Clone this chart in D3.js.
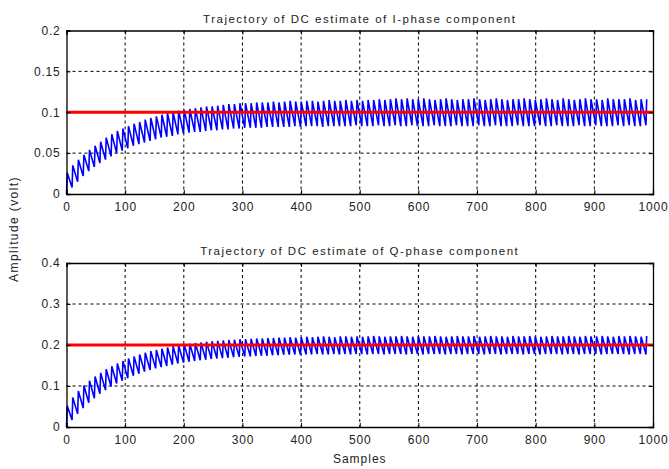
<!DOCTYPE html>
<html><head><meta charset="utf-8">
<script src="https://cdn.jsdelivr.net/npm/d3@7"></script>
<style>
html,body{margin:0;padding:0;background:#fff;}
svg{display:block;font-family:"Liberation Sans",Arial,sans-serif;}
</style></head>
<body>
<svg id="chart" width="669" height="469"></svg>
<script>
// ---- data ----
const xTicks = [0,100,200,300,400,500,600,700,800,900,1000];
const iTicks = [0,0.05,0.1,0.15,0.2];
const qTicks = [0,0.1,0.2,0.3,0.4];
const iTitle = "Trajectory of DC estimate of I-phase component";
const qTitle = "Trajectory of DC estimate of Q-phase component";
const yLabel = "Amplitude (volt)";
const xLabel = "Samples";
const iReference = 0.1;
const qReference = 0.2;
const cyclePeriod = 9.5;  // samples per oscillation cycle
const peakOffset = 1.2;   // samples from trough to peak

// I-phase: per-cycle troughs and peaks
const iTrough = [0.000,0.008,0.015,0.022,0.028,0.033,0.038,0.042,0.046,0.050,
0.053,0.056,0.059,0.061,0.063,0.065,0.067,0.069,0.070,0.071,
0.073,0.074,0.075,0.076,0.076,0.077,0.078,0.078,0.079,0.079,
0.080,0.080,0.081,0.081,0.081,0.081,0.082,0.082,0.082,0.082,
0.082,0.083,0.082,0.083,0.083,0.083,0.082,0.083,0.083,0.083,
0.083,0.083,0.084,0.083,0.083,0.083,0.084,0.083,0.083,0.084,
0.083,0.083,0.084,0.083,0.083,0.083,0.084,0.083,0.083,0.083,
0.084,0.083,0.083,0.083,0.084,0.083,0.083,0.084,0.083,0.083,
0.083,0.084,0.083,0.083,0.083,0.084,0.083,0.083,0.084,0.083,
0.083,0.083,0.084,0.083,0.083,0.084,0.083,0.083,0.083,0.084,
0.083,0.084,0.083,0.083,0.084];
const iPeak = [0.026,0.035,0.042,0.048,0.054,0.059,0.064,0.069,0.073,0.077,
0.080,0.083,0.086,0.088,0.091,0.093,0.095,0.097,0.099,0.100,
0.102,0.103,0.104,0.105,0.106,0.107,0.107,0.108,0.109,0.110,
0.110,0.111,0.111,0.111,0.112,0.112,0.112,0.113,0.112,0.113,
0.114,0.113,0.113,0.114,0.114,0.113,0.114,0.115,0.114,0.114,
0.115,0.114,0.115,0.114,0.115,0.115,0.116,0.115,0.116,0.117,
0.116,0.117,0.116,0.116,0.117,0.116,0.115,0.116,0.117,0.116,
0.115,0.116,0.116,0.117,0.116,0.115,0.116,0.117,0.116,0.115,
0.116,0.116,0.117,0.116,0.115,0.116,0.117,0.116,0.115,0.117,
0.116,0.115,0.116,0.117,0.116,0.116,0.115,0.117,0.116,0.116,
0.116,0.117,0.115,0.116,0.116];

// Q-phase: per-cycle troughs and peaks
const qTrough = [0.000,0.017,0.032,0.046,0.059,0.070,0.081,0.090,0.099,0.106,
0.113,0.119,0.125,0.130,0.135,0.139,0.143,0.146,0.149,0.152,
0.155,0.157,0.159,0.161,0.163,0.164,0.166,0.167,0.168,0.169,
0.170,0.171,0.172,0.172,0.173,0.174,0.174,0.175,0.175,0.176,
0.176,0.177,0.176,0.177,0.177,0.178,0.177,0.177,0.178,0.177,
0.178,0.177,0.178,0.178,0.177,0.178,0.178,0.177,0.178,0.178,
0.178,0.177,0.178,0.178,0.177,0.178,0.178,0.178,0.177,0.178,
0.178,0.177,0.178,0.178,0.178,0.177,0.178,0.178,0.177,0.178,
0.178,0.178,0.177,0.178,0.178,0.177,0.178,0.178,0.178,0.177,
0.178,0.178,0.177,0.178,0.178,0.178,0.177,0.178,0.178,0.178,
0.178,0.177,0.178,0.178,0.177];
const qPeak = [0.052,0.072,0.088,0.101,0.113,0.123,0.132,0.141,0.148,0.155,
0.161,0.167,0.172,0.177,0.181,0.185,0.188,0.191,0.194,0.197,
0.199,0.201,0.203,0.205,0.206,0.208,0.209,0.210,0.211,0.212,
0.213,0.214,0.214,0.215,0.216,0.216,0.217,0.217,0.218,0.218,
0.219,0.218,0.219,0.220,0.219,0.220,0.221,0.220,0.219,0.221,
0.221,0.220,0.221,0.220,0.221,0.222,0.221,0.220,0.221,0.221,
0.222,0.221,0.220,0.222,0.221,0.221,0.222,0.221,0.220,0.221,
0.222,0.221,0.221,0.222,0.220,0.221,0.222,0.221,0.221,0.220,
0.222,0.221,0.221,0.222,0.221,0.220,0.221,0.222,0.221,0.221,
0.222,0.221,0.220,0.222,0.221,0.221,0.222,0.221,0.220,0.222,
0.221,0.222,0.221,0.220,0.222];

// ---- drawing ----
const svg = d3.select("#chart");
const left = 66.5, right = 653;
const x = d3.scaleLinear().domain([0,1000]).range([left,right]);
const txt = "#222";

function series(troughs, peaks){
  const pts = [];
  troughs.forEach((t,k)=>{
    pts.push([k*cyclePeriod, t]);
    pts.push([k*cyclePeriod+peakOffset, peaks[k]]);
  });
  return pts;
}

function panel(top, bottom, yMax, ticks, title, troughs, peaks, ref){
  const y = d3.scaleLinear().domain([0,yMax]).range([bottom, top]);
  const g = svg.append("g");
  // grid
  g.append("g").selectAll("line").data(xTicks.slice(1,-1)).join("line")
    .attr("x1",d=>x(d)).attr("x2",d=>x(d)).attr("y1",top).attr("y2",bottom)
    .attr("stroke","#000").attr("stroke-width",1).attr("stroke-dasharray","3,3");
  g.append("g").selectAll("line").data(ticks.slice(1,-1)).join("line")
    .attr("x1",left).attr("x2",right).attr("y1",d=>y(d)).attr("y2",d=>y(d))
    .attr("stroke","#000").attr("stroke-width",1).attr("stroke-dasharray","3,3");
  // data
  const line = d3.line().x(d=>x(d[0])).y(d=>y(d[1]));
  g.append("path").datum(series(troughs,peaks)).attr("d",line)
    .attr("fill","none").attr("stroke","#0000ff").attr("stroke-width",1.6);
  g.append("path").datum([[0,ref],[1000,ref]]).attr("d",line)
    .attr("fill","none").attr("stroke","#ff0000").attr("stroke-width",2.8);
  // axes
  const ax = g.append("g").attr("transform",`translate(0,${bottom})`)
    .call(d3.axisBottom(x).tickValues(xTicks).tickSize(-4).tickPadding(8).tickFormat(d3.format("d")));
  const axT = g.append("g").attr("transform",`translate(0,${top})`)
    .call(d3.axisTop(x).tickValues(xTicks).tickSize(-4).tickFormat(""));
  const ay = g.append("g").attr("transform",`translate(${left},0)`)
    .call(d3.axisLeft(y).tickValues(ticks).tickSize(-4).tickPadding(6).tickFormat(d=>String(d)));
  const ayR = g.append("g").attr("transform",`translate(${right},0)`)
    .call(d3.axisRight(y).tickValues(ticks).tickSize(-4).tickFormat(""));
  [ax,axT,ay,ayR].forEach(a=>{
    a.select(".domain").attr("stroke","#000").attr("stroke-width",1.3);
    a.selectAll(".tick line").attr("stroke","#000");
    a.selectAll("text").attr("font-size",12).attr("fill",txt).attr("letter-spacing","0.8px")
      .attr("font-family","'Liberation Sans',Arial,sans-serif");
  });
  g.append("text").attr("x",(left+right)/2).attr("y",top-8)
    .attr("text-anchor","middle").attr("font-size",11.5).attr("letter-spacing","1.5px")
    .attr("fill",txt).text(title);
}

panel(30.5, 194, 0.2, iTicks, iTitle, iTrough, iPeak, iReference);
panel(263, 427, 0.4, qTicks, qTitle, qTrough, qPeak, qReference);

svg.append("text").attr("transform","translate(18,229) rotate(-90)")
  .attr("text-anchor","middle").attr("font-size",12).attr("letter-spacing","1.4px")
  .attr("fill",txt).text(yLabel);
svg.append("text").attr("x",(left+right)/2).attr("y",463)
  .attr("text-anchor","middle").attr("font-size",12).attr("letter-spacing","1px")
  .attr("fill",txt).text(xLabel);
</script>
</body></html>
